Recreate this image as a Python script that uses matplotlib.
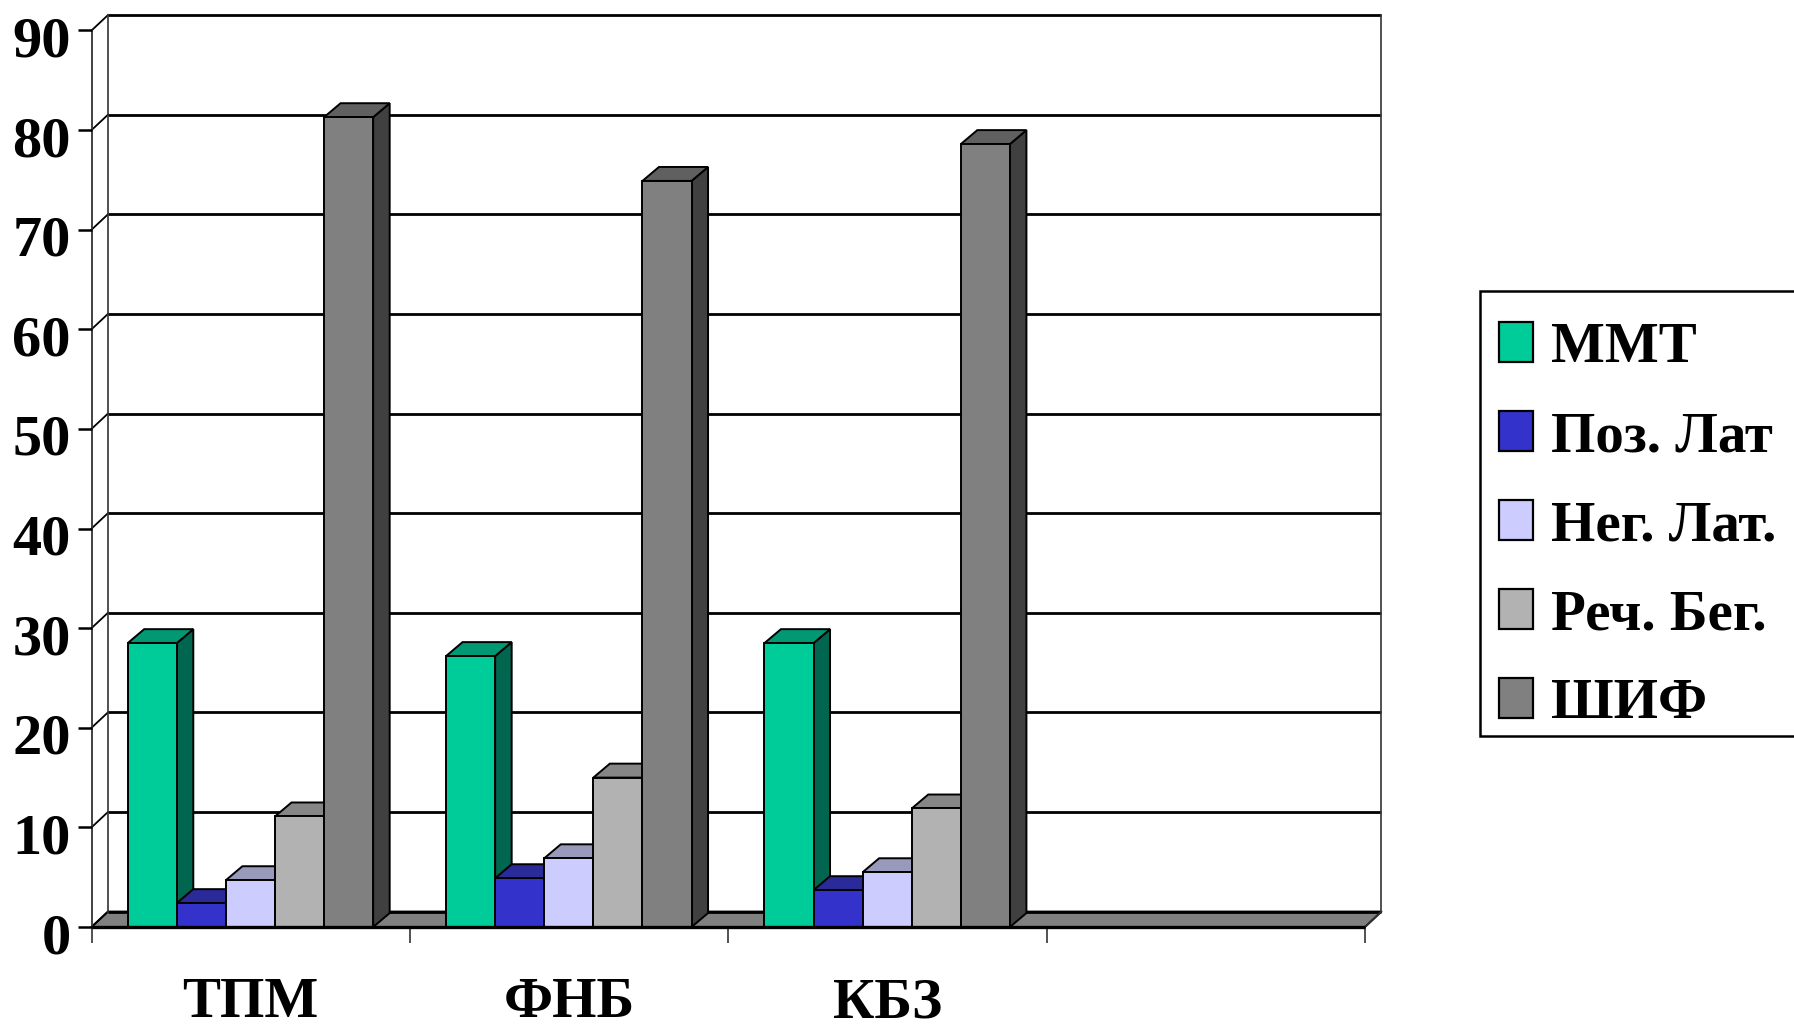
import matplotlib
matplotlib.use("Agg")
import matplotlib.pyplot as plt
from matplotlib.patches import Polygon, Rectangle
from matplotlib.transforms import ScaledTranslation

plt.rcParams['font.family'] = ['Liberation Serif', 'DejaVu Serif']
plt.rcParams['font.weight'] = 'bold'

categories = ["ТПМ", "ФНБ", "КБЗ", ""]
series_names = ["ММТ", "Поз. Лат", "Нег. Лат.", "Реч. Бег.", "ШИФ"]
mmt = [28.5, 27.2, 28.5]
poz_lat = [2.4, 4.9, 3.7]
neg_lat = [4.7, 6.9, 5.5]
rech_beg = [11.1, 15.0, 11.9]
shif = [81.3, 74.9, 78.6]
y_ticks = [0, 10, 20, 30, 40, 50, 60, 70, 80, 90]

front_cols = ["#00CC99", "#3333CC", "#CCCCFF", "#B2B2B2", "#808080"]
top_cols = ["#009973", "#2A2A99", "#9999BB", "#868686", "#606060"]
side_cols = ["#006650", "#1A1A66", "#666680", "#595959", "#404040"]

W, H = 1794, 1027
fig = plt.figure(figsize=(W / 100, H / 100), dpi=100, facecolor="white")
left, right, top, bottom = 91.5, 1365, 30.5, 927
ax = fig.add_axes([left / W, (H - bottom) / H, (right - left) / W, (bottom - top) / H])
ax.set_xlim(0, 4)
ax.set_ylim(0, 90)
for s in ax.spines.values():
    s.set_visible(False)
ax.patch.set_visible(False)

# depth of the fake 3d box, data units
dx = 16.5 / 318.4
dy = 1.55
bar_dx = 16.5 / 318.4
bar_dy = 1.4

# floor
ax.add_patch(Polygon([(0, 0), (dx, dy), (4 + dx, dy), (4, 0)], closed=True, facecolor="#808080",
                     edgecolor="black", linewidth=1.4, clip_on=False, zorder=1))

# grid on the back wall and the left wall
for v in y_ticks:
    ax.plot([dx, 4 + dx], [v + dy, v + dy], color="black", lw=2.0, clip_on=False, zorder=1.5,
            solid_capstyle="butt")
    ax.plot([0, dx], [v, v + dy], color="black", lw=1.3, clip_on=False, zorder=1.5)
ax.plot([dx, dx], [dy, 90 + dy], color="#333333", lw=1.2, clip_on=False, zorder=1.5)
ax.plot([4 + dx, 4 + dx], [dy, 90 + dy], color="#333333", lw=1.2, clip_on=False, zorder=1.5)
ax.plot([4, 4 + dx], [0, dy], color="#333333", lw=1.2, clip_on=False, zorder=1.5)
ax.plot([0, 0], [0, 90], color="#333333", lw=1.3, clip_on=False, zorder=1.5)

# bars
bar_w = 49.1 / 318.4
gap = 36.2 / 318.4
all_series = [mmt, poz_lat, neg_lat, rech_beg, shif]
for c in range(3):
    for k in range(5):
        x0 = c + gap + k * bar_w
        val = all_series[k][c]
        x1 = x0 + bar_w
        ax.add_patch(Polygon([(x1, 0), (x1 + bar_dx, bar_dy), (x1 + bar_dx, val + bar_dy), (x1, val)],
                             closed=True, facecolor=side_cols[k], edgecolor="black", lw=1.4,
                             zorder=2 + c + k * 0.1, clip_on=False))
        ax.add_patch(Polygon([(x0, val), (x0 + bar_dx, val + bar_dy), (x1 + bar_dx, val + bar_dy), (x1, val)],
                             closed=True, facecolor=top_cols[k], edgecolor="black", lw=1.4,
                             zorder=2 + c + k * 0.1, clip_on=False))
        ax.bar(x0, val, width=bar_w, align="edge", color=front_cols[k], edgecolor="black", linewidth=1.4,
               zorder=2.05 + c + k * 0.1, clip_on=False)

# front bottom line
ax.plot([0, 4], [0, 0], color="black", lw=2.4, clip_on=False, zorder=8, solid_capstyle="butt")

ax.set_yticks(y_ticks)
ax.set_yticklabels([str(v) for v in y_ticks], fontsize=42, fontweight="bold")
ax.tick_params(axis="y", length=10, width=1.8, color="black", pad=5)
# numbers sit a little under their ticks in the original
shift = ScaledTranslation(0, -6 / 100, fig.dpi_scale_trans)
for lab in ax.get_yticklabels():
    lab.set_transform(lab.get_transform() + shift)
ax.set_xticks([0, 1, 2, 3, 4])
ax.set_xticklabels([])
ax.tick_params(axis="x", which="major", length=11.5, width=1.1, color="#222222")
ax.set_xticks([0.5, 1.5, 2.5, 3.5], minor=True)
ax.set_xticklabels(categories, minor=True, fontsize=41, fontweight="bold")
ax.tick_params(axis="x", which="minor", length=0, pad=36)

# legend box runs off the right edge of the picture
fig.add_artist(Rectangle((1479.5 / W, (H - 736) / H), (W + 20 - 1479.5) / W, (736 - 291) / H,
                         transform=fig.transFigure, facecolor="white", edgecolor="black", lw=1.8))
handles = [Rectangle((0, 0), 1, 1, facecolor=front_cols[k], edgecolor="black", lw=1.6) for k in range(5)]
fs = 41
leg = fig.legend(handles, series_names, loc="upper left", bbox_to_anchor=(1499 / W, 1 - 322 / H),
                 bbox_transform=fig.transFigure, frameon=False, fontsize=fs, borderpad=0, borderaxespad=0,
                 handlelength=0.6, handleheight=0.7, handletextpad=0.32, labelspacing=0.65,
                 prop={"family": "Liberation Serif", "weight": "bold", "size": fs})

fig.savefig("out.png", dpi=100, facecolor="white")
